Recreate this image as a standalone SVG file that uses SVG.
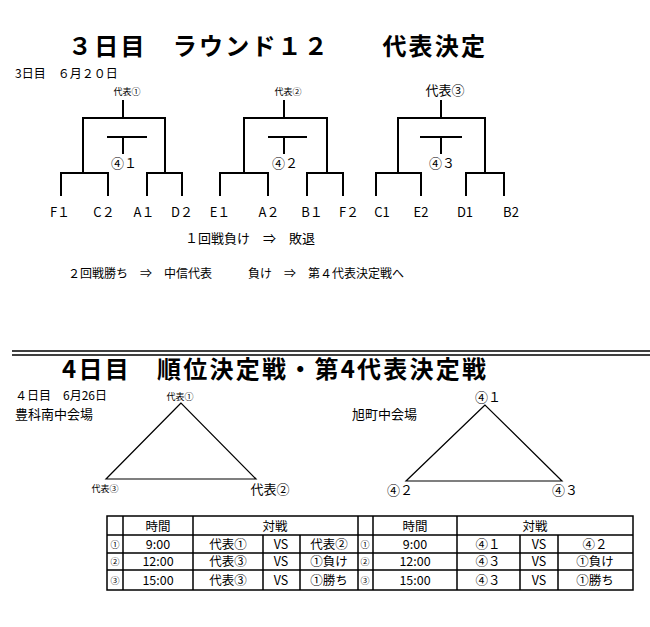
<svg xmlns="http://www.w3.org/2000/svg" width="650" height="627" viewBox="0 0 650 627">
<style>
text{font-family:"Noto Sans CJK JP","Noto Sans",sans-serif;fill:#000}
.t{font-size:13px}.s{font-size:9px}.b{font-size:24px;font-weight:bold}.m{font-size:12px}.c{text-anchor:middle}
.l{stroke:#000;stroke-width:2;fill:none}
.tb{stroke:#000;stroke-width:1.5;fill:none}
.tri{stroke:#000;stroke-width:1.2;fill:none}
.r{font-size:12.5px;text-anchor:middle}
</style>
<rect width="650" height="627" fill="#fff"/>
<text x="68" y="55" class="b" textLength="417">３日目　ラウンド１２　　代表決定</text>
<text x="15" y="78" class="m">3日目　６月２０日</text>
<g id="bracket1">
<text x="127" y="95" class="s c">代表①</text>
<path class="l" d="M123 100V118M83 173V118H165V173M107 137H147M123 137V154M61 196V173H108V196M147 196V173H182V196"/>
<text x="124" y="168" class="t c">④１</text>
<text x="60" y="217" class="t c">F１</text><text x="104" y="217" class="t c">C２</text><text x="144" y="217" class="t c">A１</text><text x="182" y="217" class="t c">D２</text>
</g>
<g id="bracket2">
<text x="288" y="95" class="s c">代表②</text>
<path class="l" d="M284 100V118M244 173V118H327V173M268 137H307M284 137V154M220 196V173H268V196M307 196V173H343V196"/>
<text x="285" y="168" class="t c">④２</text>
<text x="220" y="217" class="t c">E１</text><text x="269" y="217" class="t c">A２</text><text x="312" y="217" class="t c">B１</text><text x="349" y="217" class="t c">F２</text>
</g>
<g id="bracket3">
<text x="445" y="95" class="t c">代表③</text>
<path class="l" d="M441 100V118M398 173V118H485V173M420 137H462M441 137V154M376 196V173H421V196M466 196V173H504V196"/>
<text x="442" y="168" class="t c">④３</text>
<text x="382" y="217" class="t c">C1</text><text x="421" y="217" class="t c">E2</text><text x="465" y="217" class="t c">D1</text><text x="511" y="217" class="t c">B2</text>
</g>
<text x="185" y="243" class="t">１回戦負け　⇒　敗退</text>
<text x="68" y="278" class="m">２回戦勝ち　⇒　中信代表　　　負け　⇒　第４代表決定戦へ</text>
<path d="M12 351H650M12 355H650" stroke="#000" stroke-width="1.5"/>
<text x="62" y="378" class="b" textLength="424">4日目　順位決定戦・第4代表決定戦</text>
<text x="15" y="400" class="m">４日目　6月26日</text>
<text x="15" y="419" class="t">豊科南中会場</text>
<g id="tri1">
<text x="180" y="400" class="s c">代表①</text>
<polygon class="tri" points="181,403 106,479 256,479"/>
<text x="105" y="492" class="s c">代表③</text>
<text x="270" y="494" class="t c">代表②</text>
</g>
<text x="352" y="419" class="t">旭町中会場</text>
<g id="tri2">
<text x="488" y="402" class="t c">④１</text>
<polygon class="tri" points="485,405 406,481 562,481"/>
<text x="400" y="495" class="t c">④２</text>
<text x="565" y="495" class="t c">④３</text>
</g>
<g id="table">
<rect class="tb" x="107" y="516" width="526" height="74"/>
<path class="tb" d="M107 535H633M107 553H633M107 570H633M123 516V590M193 516V590M263 535V590M300 535V590M358 516V590M373 516V590M457 516V590M520 535V590M558 535V590"/>
<text x="158" y="531" class="r">時間</text><text x="275" y="531" class="r">対戦</text>
<text x="415" y="531" class="r">時間</text><text x="535" y="531" class="r">対戦</text>
<text x="115" y="548" class="s c">①</text><text x="115" y="565" class="s c">②</text><text x="115" y="584" class="s c">③</text>
<text x="365" y="548" class="s c">①</text><text x="365" y="565" class="s c">②</text><text x="365" y="584" class="s c">③</text>
<text x="158" y="549" class="r">9:00</text><text x="158" y="566" class="r">12:00</text><text x="158" y="585" class="r">15:00</text>
<text x="415" y="549" class="r">9:00</text><text x="415" y="566" class="r">12:00</text><text x="415" y="585" class="r">15:00</text>
<text x="228" y="549" class="r">代表①</text><text x="228" y="566" class="r">代表③</text><text x="228" y="585" class="r">代表③</text>
<text x="281" y="549" class="r">VS</text><text x="281" y="566" class="r">VS</text><text x="281" y="585" class="r">VS</text>
<text x="329" y="549" class="r">代表②</text><text x="329" y="566" class="r">①負け</text><text x="329" y="585" class="r">①勝ち</text>
<text x="488" y="549" class="r">④１</text><text x="488" y="566" class="r">④３</text><text x="488" y="585" class="r">④３</text>
<text x="539" y="549" class="r">VS</text><text x="539" y="566" class="r">VS</text><text x="539" y="585" class="r">VS</text>
<text x="595" y="549" class="r">④２</text><text x="595" y="566" class="r">①負け</text><text x="595" y="585" class="r">①勝ち</text>
</g>
</svg>
